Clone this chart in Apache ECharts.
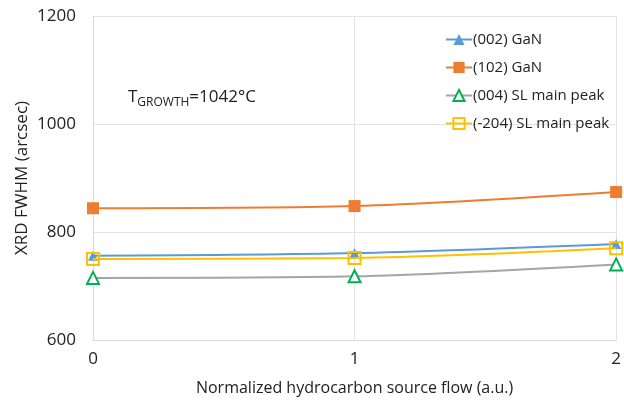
<!DOCTYPE html>
<html><head><meta charset="utf-8">
<script src="https://cdn.jsdelivr.net/npm/echarts@6/dist/echarts.min.js"></script>
<style>html,body{margin:0;padding:0;background:#fff}#c{width:624px;height:404px}</style>
</head><body><div id="c"></div>
<script>
const xValues = [0, 1, 2];
const gan002 = [756, 761, 778];
const gan102 = [844, 848, 874];
const sl004 = [715, 718, 740];
const sl204 = [750, 752, 770];
const seriesNames = ['(002) GaN', '(102) GaN', '(004) SL main peak', '(-204) SL main peak'];
const yTicks = [600, 800, 1000, 1200];

const FONT = 'Open Sans';
function pts(arr){ return xValues.map((x,i)=>[x, arr[i]]); }

const chart = echarts.init(document.getElementById('c'));
chart.setOption({
  animation: false,
  textStyle: {fontFamily: FONT},
  grid: {left: 93, right: 5, top: 16, bottom: 64},
  xAxis: {
    type: 'value', min: 0, max: 2, interval: 1,
    name: 'Normalized hydrocarbon source flow (a.u.)',
    nameLocation: 'middle', nameGap: 40,
    nameTextStyle: {fontSize: 16, color: '#222', fontFamily: FONT},
    axisLine: {show: true, lineStyle: {color: '#d9d9d9'}},
    axisTick: {show: false},
    axisLabel: {fontSize: 17, color: '#222', margin: 11, fontFamily: FONT},
    splitLine: {show: true, lineStyle: {color: '#e3e3e3'}}
  },
  yAxis: {
    type: 'value', min: yTicks[0], max: yTicks[yTicks.length-1], interval: 200,
    name: 'XRD FWHM (arcsec)', nameLocation: 'middle', nameGap: 62, nameMoveOverlap: false,
    nameTextStyle: {fontSize: 17, color: '#222', fontFamily: FONT},
    axisLine: {show: true, lineStyle: {color: '#d9d9d9'}},
    axisTick: {show: false},
    axisLabel: {fontSize: 17, color: '#222', margin: 17, fontFamily: FONT, formatter: v => String(v)},
    splitLine: {show: true, lineStyle: {color: '#e3e3e3'}}
  },
  legend: {
    orient: 'vertical', left: 440, top: 27, itemGap: 13,
    itemWidth: 26, itemHeight: 14,
    textStyle: {fontSize: 15, color: '#222', fontFamily: FONT, padding: [0,0,0,-4]},
    data: seriesNames
  },
  graphic: [{
    type: 'text', left: 128, top: 89,
    style: {
      text: '{a|T}{b|GROWTH}{a|=1042°C}',
      rich: {
        a: {fontSize: 17, fontFamily: FONT, fill: '#222', verticalAlign: 'bottom'},
        b: {fontSize: 12, fontFamily: FONT, fill: '#222', verticalAlign: 'bottom', padding: [0,0,-3,0]}
      }
    }
  }],
  series: [
    {name: seriesNames[0], type: 'line', smooth: 0.3, data: pts(gan002),
     symbol: 'triangle', symbolSize: 10,
     lineStyle: {color: '#5B9BD5', width: 2}, itemStyle: {color: '#5B9BD5'}, z: 4},
    {name: seriesNames[1], type: 'line', smooth: 0.3, data: pts(gan102),
     symbol: 'rect', symbolSize: 12,
     lineStyle: {color: '#ED7D31', width: 2}, itemStyle: {color: '#ED7D31'}},
    {name: seriesNames[2], type: 'line', smooth: 0.3, data: pts(sl004),
     symbol: 'triangle', symbolSize: 12,
     lineStyle: {color: '#A5A5A5', width: 2}, itemStyle: {color: '#fff', borderColor: '#00B050', borderWidth: 2}},
    {name: seriesNames[3], type: 'line', smooth: 0.3, data: pts(sl204),
     symbol: 'rect', symbolSize: 12,
     lineStyle: {color: '#FFC000', width: 2}, itemStyle: {color: 'rgba(255,255,255,0)', borderColor: '#FFC000', borderWidth: 2}, z: 5}
  ]
});
</script></body></html>
